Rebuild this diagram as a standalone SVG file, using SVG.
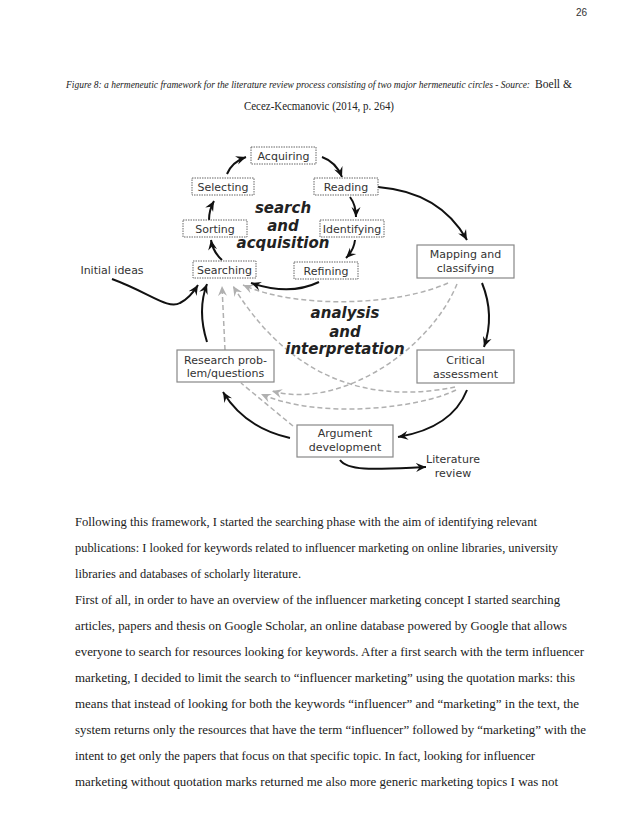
<svg xmlns="http://www.w3.org/2000/svg" width="638" height="826" viewBox="0 0 638 826">
<defs>
<marker id="ab" viewBox="-10 -5 11 10" refX="0" refY="0" markerWidth="11" markerHeight="10" markerUnits="userSpaceOnUse" orient="auto"><path d="M0,0 L-10,-4.5 L-6.5,0 L-10,4.5 Z" fill="#111"/></marker>
<marker id="ag" viewBox="-10 -5 11 10" refX="0" refY="0" markerWidth="11" markerHeight="10" markerUnits="userSpaceOnUse" orient="auto"><path d="M0,0 L-10,-4.5 L-6.5,0 L-10,4.5 Z" fill="#b0b0b0"/></marker>
<style>
.cap{font-family:"Liberation Serif",serif;font-size:11.5px;fill:#222}
.capi{font-family:"Liberation Serif",serif;font-size:9.7px;font-style:italic;fill:#222}
.body{font-family:"Liberation Serif",serif;font-size:12.5px;fill:#1a1a1a}
.lbl{font-family:"DejaVu Sans",sans-serif;font-size:11px;fill:#333;text-anchor:middle}
.big{font-family:"DejaVu Sans",sans-serif;font-size:15px;font-weight:bold;font-style:italic;fill:#222;text-anchor:middle}
.dbox{fill:#fff;stroke:#666;stroke-width:1;stroke-dasharray:1.5 1}
.sbox{fill:#fff;stroke:#888;stroke-width:1.2}
.blk{fill:none;stroke:#111;stroke-width:2;marker-end:url(#ab)}
.gry{fill:none;stroke:#b0b0b0;stroke-width:1.5;stroke-dasharray:5 3}
.gya{fill:none;stroke:#b0b0b0;stroke-width:1.5;stroke-dasharray:5 3;marker-end:url(#ag)}
</style>
</defs>
<rect width="638" height="826" fill="#fff"/>
<text x="587" y="16" font-family="Liberation Sans, sans-serif" font-size="10" fill="#333" text-anchor="end">26</text>
<text class="capi" x="66" y="88" textLength="464" lengthAdjust="spacingAndGlyphs">Figure 8: a hermeneutic framework for the literature review process consisting of two major hermeneutic circles - Source:</text>
<text class="cap" x="535" y="88" textLength="37" lengthAdjust="spacingAndGlyphs">Boell &amp;</text>
<text class="cap" x="319" y="110" text-anchor="middle" textLength="150" lengthAdjust="spacingAndGlyphs">Cecez-Kecmanovic (2014, p. 264)</text>

<g id="connectors">
<path class="gya" d="M225,350 L222,286"/>
<path class="gya" d="M455,387 C390,400 300,395 233,286"/>
<path class="gya" d="M448,283 C400,305 300,310 243,285"/>
<path class="gya" d="M457,284 C430,350 340,410 272,391"/>
<path class="gya" d="M456,390 C420,408 320,420 261,394"/>
<path class="gry" d="M293,426 L241,383"/>
<path class="blk" d="M227,174 Q232,162 246,157"/>
<path class="blk" d="M322,157 Q336,162 342,177"/>
<path class="blk" d="M350,197 Q356,205 356,217"/>
<path class="blk" d="M355,240 Q354,250 346,258"/>
<path class="blk" d="M319,282 Q290,296 251,283"/>
<path class="blk" d="M222,260 Q213,252 211,240"/>
<path class="blk" d="M209,220 Q209,210 214,201"/>
<path class="blk" d="M378,187 Q440,192 467,240"/>
<path class="blk" d="M482,283 Q495,315 484,347"/>
<path class="blk" d="M467,390 Q452,428 398,437"/>
<path class="blk" d="M290,438 Q245,428 223,392"/>
<path class="blk" d="M340,460 C348,472 380,469 426,467"/>
<path class="blk" d="M207,342 Q197,310 207,284"/>
<path class="blk" d="M112,279 C150,293 168,310 180,303 Q190,298 198,285"/>
</g>

<g id="acquiring"><rect class="dbox" x="251" y="147" width="65" height="17"/><text class="lbl" x="283.5" y="159.5">Acquiring</text></g>
<g id="reading"><rect class="dbox" x="314" y="178" width="64" height="17"/><text class="lbl" x="346" y="190.5">Reading</text></g>
<g id="selecting"><rect class="dbox" x="192" y="178" width="62" height="17"/><text class="lbl" x="223" y="190.5">Selecting</text></g>
<g id="sorting"><rect class="dbox" x="183" y="220" width="64" height="17"/><text class="lbl" x="215" y="232.5">Sorting</text></g>
<g id="identifying"><rect class="dbox" x="320" y="220" width="64" height="17"/><text class="lbl" x="352" y="232.5">Identifying</text></g>
<g id="searching"><rect class="dbox" x="193" y="261" width="63" height="17"/><text class="lbl" x="224.5" y="273.5">Searching</text></g>
<g id="refining"><rect class="dbox" x="294" y="262" width="64" height="17"/><text class="lbl" x="326" y="274.5">Refining</text></g>

<g id="search-label"><text class="big" x="283" y="213">search</text><text class="big" x="283" y="231">and</text><text class="big" x="283" y="248">acquisition</text></g>
<g id="analysis-label"><text class="big" x="345" y="318">analysis</text><text class="big" x="345" y="337">and</text><text class="big" x="345" y="354">interpretation</text></g>

<g id="mapping"><rect class="sbox" x="417" y="245" width="97" height="33"/><text class="lbl" x="465.5" y="258">Mapping and</text><text class="lbl" x="465.5" y="272">classifying</text></g>
<g id="critical"><rect class="sbox" x="417" y="350" width="97" height="33"/><text class="lbl" x="465.5" y="364">Critical</text><text class="lbl" x="465.5" y="378">assessment</text></g>
<g id="argument"><rect class="sbox" x="297" y="425" width="96" height="32"/><text class="lbl" x="345" y="437">Argument</text><text class="lbl" x="345" y="450.5">development</text></g>
<g id="research"><rect class="sbox" x="177" y="350" width="97" height="32"/><text class="lbl" x="225.5" y="364">Research prob-</text><text class="lbl" x="225.5" y="377">lem/questions</text></g>
<g id="initial-ideas"><text class="lbl" x="112" y="274">Initial ideas</text></g>
<g id="literature-review"><text class="lbl" x="453" y="463">Literature</text><text class="lbl" x="453" y="477">review</text></g>

<g id="body">
<text class="body" x="75" y="526" textLength="462" lengthAdjust="spacingAndGlyphs">Following this framework, I started the searching phase with the aim of identifying relevant</text>
<text class="body" x="75" y="552" textLength="483" lengthAdjust="spacingAndGlyphs">publications: I looked for keywords related to influencer marketing on online libraries, university</text>
<text class="body" x="75" y="578" textLength="226" lengthAdjust="spacingAndGlyphs">libraries and databases of scholarly literature.</text>
<text class="body" x="75" y="604" textLength="485" lengthAdjust="spacingAndGlyphs">First of all, in order to have an overview of the influencer marketing concept I started searching</text>
<text class="body" x="75" y="630" textLength="492" lengthAdjust="spacingAndGlyphs">articles, papers and thesis on Google Scholar, an online database powered by Google that allows</text>
<text class="body" x="75" y="656" textLength="509" lengthAdjust="spacingAndGlyphs">everyone to search for resources looking for keywords. After a first search with the term influencer</text>
<text class="body" x="75" y="682" textLength="500" lengthAdjust="spacingAndGlyphs">marketing, I decided to limit the search to “influencer marketing” using the quotation marks: this</text>
<text class="body" x="75" y="708" textLength="504" lengthAdjust="spacingAndGlyphs">means that instead of looking for both the keywords “influencer” and “marketing” in the text, the</text>
<text class="body" x="75" y="734" textLength="511" lengthAdjust="spacingAndGlyphs">system returns only the resources that have the term “influencer” followed by “marketing” with the</text>
<text class="body" x="75" y="760" textLength="460" lengthAdjust="spacingAndGlyphs">intent to get only the papers that focus on that specific topic. In fact, looking for influencer</text>
<text class="body" x="75" y="786" textLength="483" lengthAdjust="spacingAndGlyphs">marketing without quotation marks returned me also more generic marketing topics I was not</text>
</g>
</svg>
